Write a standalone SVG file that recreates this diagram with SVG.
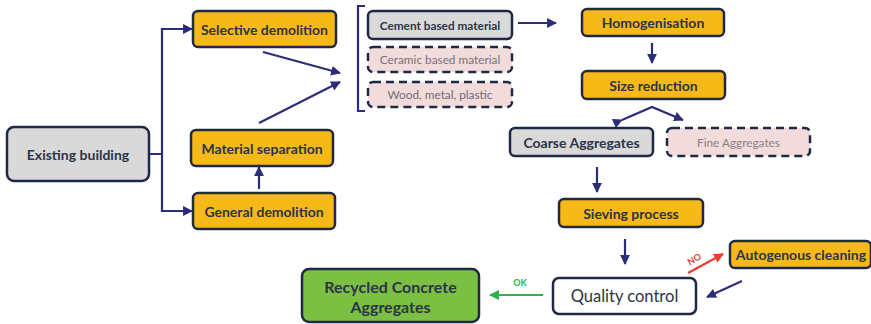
<svg xmlns="http://www.w3.org/2000/svg" width="871" height="324" viewBox="0 0 871 324">
<style>
.box{stroke:#1f2845;stroke-width:2.5}
.or{fill:#f7b918}
.gr{fill:#d9d9d9}
.pk{fill:#f2dcdb;stroke-dasharray:8 5}
.wh{fill:#ffffff}
.gn{fill:#7bc043}
.t{font-family:Lato,"Liberation Sans",sans-serif;font-weight:bold;fill:#2c3446;text-anchor:middle;dominant-baseline:central}
.m{font-size:14px}
.s{font-size:11.8px}
.n{font-weight:normal}
.c{stroke:#2b2d7a;stroke-width:2.2;fill:none}
</style>
<defs>
<marker id="a" viewBox="0 0 10 10" refX="9" refY="5" markerWidth="4.5" markerHeight="4.5" orient="auto" markerUnits="strokeWidth"><path d="M0,0 L10,5 L0,10 z" fill="#2b2d7a"/></marker>
<marker id="ag" viewBox="0 0 10 10" refX="9" refY="5" markerWidth="4.5" markerHeight="4.5" orient="auto" markerUnits="strokeWidth"><path d="M0,0 L10,5 L0,10 z" fill="#2db34a"/></marker>
<marker id="ar" viewBox="0 0 10 10" refX="9" refY="5" markerWidth="4.5" markerHeight="4.5" orient="auto" markerUnits="strokeWidth"><path d="M0,0 L10,5 L0,10 z" fill="#ef3b2c"/></marker>
</defs>
<g id="connectors">
<path class="c" d="M149,154 H162 V29 H192" marker-end="url(#a)"/>
<path class="c" d="M162,154 V211 H192" marker-end="url(#a)"/>
<path class="c" d="M259,189 V167" marker-end="url(#a)"/>
<path class="c" d="M263,52 L340,73" marker-end="url(#a)"/>
<path class="c" d="M259,123 L340,82" marker-end="url(#a)"/>
<path class="c" d="M365,6 H358 V111 H365"/>
<path class="c" d="M518,23 H556" marker-end="url(#a)"/>
<path class="c" d="M652,43 V63" marker-end="url(#a)"/>
<path class="c" d="M622,120 L652,107 L683,120" marker-start="url(#a)" marker-end="url(#a)"/>
<path class="c" d="M597,167 V192" marker-end="url(#a)"/>
<path class="c" d="M625,239 V264" marker-end="url(#a)"/>
<path class="c" d="M742,281 L707,297" marker-end="url(#a)"/>
<path d="M543,295 H490" stroke="#2db34a" stroke-width="2.2" fill="none" marker-end="url(#ag)"/>
<path d="M688,273 L723,254" stroke="#ef3b2c" stroke-width="2.2" fill="none" marker-end="url(#ar)"/>
<text x="520" y="286" font-family="Lato,'Liberation Sans',sans-serif" font-weight="bold" font-size="9" fill="#2db34a" text-anchor="middle">OK</text>
<text x="0" y="0" font-family="Lato,'Liberation Sans',sans-serif" font-weight="bold" font-size="9" fill="#ef3b2c" text-anchor="middle" transform="translate(696,262) rotate(-30)">NO</text>
</g>
<g id="existing"><rect class="box gr" x="7" y="127" width="142" height="54" rx="7"/><text class="t" x="78" y="154" font-size="14">Existing building</text></g>
<g id="selective"><rect class="box or" x="193" y="11" width="143" height="36" rx="5"/><text class="t m" x="264.5" y="29">Selective demolition</text></g>
<g id="matsep"><rect class="box or" x="191" y="130" width="142" height="36" rx="5"/><text class="t m" x="262" y="148">Material separation</text></g>
<g id="general"><rect class="box or" x="193" y="193" width="142" height="36" rx="5"/><text class="t m" x="264" y="211">General demolition</text></g>
<g id="cement"><rect class="box gr" x="368" y="11" width="144" height="28" rx="5"/><text class="t s" x="440" y="25">Cement based material</text></g>
<g id="ceramic"><rect class="box pk" x="368" y="47" width="144" height="25" rx="5"/><text class="t s n" x="440" y="59.5" style="fill:#7a6f7a">Ceramic based material</text></g>
<g id="wood"><rect class="box pk" x="368" y="82" width="144" height="25" rx="5"/><text class="t s n" x="440" y="94.5" style="fill:#6f6a72">Wood, metal, plastic</text></g>
<g id="homog"><rect class="box or" x="582" y="9" width="142" height="27" rx="5"/><text class="t m" x="653" y="22.5">Homogenisation</text></g>
<g id="size"><rect class="box or" x="582" y="71" width="143" height="28" rx="5"/><text class="t m" x="653.5" y="85">Size reduction</text></g>
<g id="coarse"><rect class="box gr" x="510" y="128" width="143" height="28" rx="5"/><text class="t m" x="581.5" y="142">Coarse Aggregates</text></g>
<g id="fine"><rect class="box pk" x="667" y="128" width="143" height="28" rx="5"/><text class="t s n" x="738.5" y="142" style="fill:#8a7f88">Fine Aggregates</text></g>
<g id="sieving"><rect class="box or" x="559" y="199" width="144" height="28" rx="5"/><text class="t m" x="631" y="213">Sieving process</text></g>
<g id="quality"><rect class="box wh" x="553" y="278" width="143" height="36" rx="6"/><text class="t n" x="624.5" y="296" font-size="16.5">Quality control</text></g>
<g id="autogenous"><rect class="box or" x="730" y="241" width="141" height="27" rx="5"/><text class="t m" x="801" y="254.5">Autogenous cleaning</text></g>
<g id="recycled"><rect class="box gn" x="302" y="269" width="177" height="53" rx="7"/><text class="t" x="390.5" y="286" font-size="16">Recycled Concrete</text><text class="t" x="390.5" y="306" font-size="16">Aggregates</text></g>
</svg>
